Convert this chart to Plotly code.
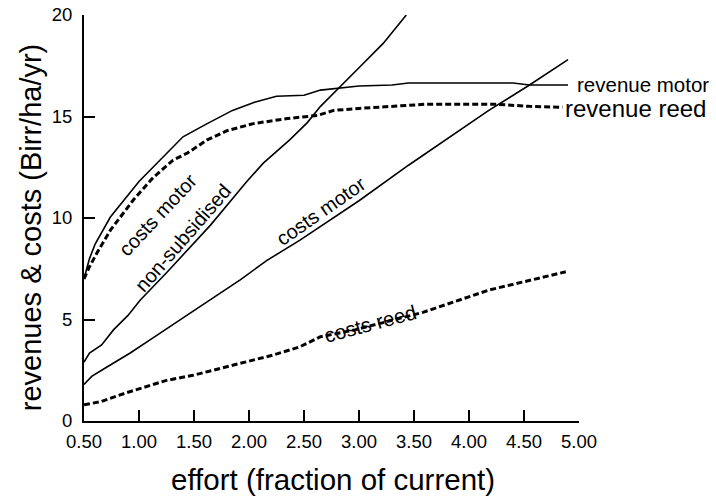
import plotly.graph_objects as go

# effort (fraction of current) vs revenues & costs (Birr/ha/yr)
rev_motor_x = [0.5, 0.55, 0.6, 0.74, 1.0, 1.2, 1.4, 1.62, 1.85, 2.05, 2.25, 2.5, 2.65, 3.0, 3.3, 3.45, 4.4, 4.55, 4.9]
rev_motor_y = [7.0, 8.0, 8.7, 10.05, 11.8, 12.9, 14.0, 14.65, 15.3, 15.7, 16.0, 16.05, 16.3, 16.5, 16.55, 16.65, 16.65, 16.55, 16.55]

rev_reed_x = [0.5, 0.55, 0.62, 0.74, 0.95, 1.13, 1.31, 1.44, 1.62, 1.8, 2.04, 2.35, 2.62, 2.77, 3.0, 3.3, 3.6, 4.25, 4.55, 4.85]
rev_reed_y = [7.0, 7.6, 8.3, 9.4, 10.9, 12.0, 12.85, 13.2, 13.85, 14.3, 14.65, 14.9, 15.05, 15.3, 15.4, 15.5, 15.6, 15.6, 15.5, 15.45]

cost_nonsub_x = [0.5, 0.55, 0.66, 0.77, 0.9, 1.01, 1.25, 1.44, 1.65, 1.98, 2.13, 2.37, 2.53, 2.65, 2.8, 3.0, 3.22, 3.43]
cost_nonsub_y = [2.9, 3.35, 3.75, 4.5, 5.2, 5.95, 7.3, 8.4, 9.65, 11.8, 12.7, 13.85, 14.7, 15.5, 16.3, 17.4, 18.6, 20.0]

cost_motor_x = [0.5, 0.57, 0.69, 0.81, 0.92, 1.1, 1.4, 1.67, 1.92, 2.16, 2.46, 3.0, 3.45, 3.88, 4.18, 4.55, 4.9]
cost_motor_y = [1.8, 2.2, 2.6, 3.0, 3.35, 4.0, 5.1, 6.05, 6.95, 7.9, 8.9, 10.85, 12.6, 14.2, 15.3, 16.55, 17.8]

cost_reed_x = [0.5, 0.65, 0.89, 1.25, 1.49, 1.74, 1.98, 2.22, 2.46, 2.65, 2.97, 3.58, 4.18, 4.88]
cost_reed_y = [0.8, 0.95, 1.4, 2.0, 2.25, 2.6, 2.9, 3.25, 3.65, 4.15, 4.5, 5.35, 6.45, 7.35]

x_ticks = [0.5, 1.0, 1.5, 2.0, 2.5, 3.0, 3.5, 4.0, 4.5, 5.0]
y_ticks = [0, 5, 10, 15, 20]

FONT = "Liberation Sans, Arial, sans-serif"
solid = dict(color="black", width=1.6)
dashed = dict(color="black", width=3, dash="6px,3px")

fig = go.Figure()
fig.add_trace(go.Scatter(x=rev_motor_x, y=rev_motor_y, mode="lines", line=solid, name="revenue motor"))
fig.add_trace(go.Scatter(x=rev_reed_x, y=rev_reed_y, mode="lines", line=dashed, name="revenue reed"))
fig.add_trace(go.Scatter(x=cost_nonsub_x, y=cost_nonsub_y, mode="lines", line=solid, name="costs motor non-subsidised"))
fig.add_trace(go.Scatter(x=cost_motor_x, y=cost_motor_y, mode="lines", line=solid, name="costs motor"))
fig.add_trace(go.Scatter(x=cost_reed_x, y=cost_reed_y, mode="lines", line=dashed, name="costs reed"))

# labels written along the curves
labels = [
    dict(text="revenue motor", x=4.96, y=16.6, xanchor="left", textangle=0, size=20.5),
    dict(text="revenue reed", x=4.85, y=15.4, xanchor="left", textangle=0, size=24),
    dict(text="costs motor", x=1.17, y=10.15, xanchor="center", textangle=-47, size=20),
    dict(text="non-subsidised", x=1.40, y=9.0, xanchor="center", textangle=-49, size=20),
    dict(text="costs motor", x=2.655, y=10.35, xanchor="center", textangle=-35, size=20),
    dict(text="costs reed", x=3.1, y=4.8, xanchor="center", textangle=-15, size=20.5),
]
for lb in labels:
    fig.add_annotation(x=lb["x"], y=lb["y"], text=lb["text"], showarrow=False,
                       xanchor=lb["xanchor"], yanchor="middle", textangle=lb["textangle"],
                       font=dict(family=FONT, size=lb["size"], color="black"))

# axis titles placed in paper coordinates
fig.add_annotation(x=0.503, y=-0.145, xref="paper", yref="paper", text="effort (fraction of current)",
                   showarrow=False, xanchor="center", yanchor="middle",
                   font=dict(family=FONT, size=29.5, color="black"))
fig.add_annotation(x=-0.107, y=0.475, xref="paper", yref="paper", text="revenues & costs (Birr/ha/yr)",
                   showarrow=False, xanchor="center", yanchor="middle", textangle=-90,
                   font=dict(family=FONT, size=29, color="black"))

axis_style = dict(showline=True, linecolor="black", linewidth=2, ticks="inside", ticklen=11,
                  tickwidth=2, tickcolor="black", showgrid=False, zeroline=False, automargin=False,
                  tickfont=dict(family=FONT, size=18.5, color="black"))

fig.update_xaxes(range=[0.5, 5.0], tickvals=x_ticks, tickformat=".2f", ticklabelstandoff=3, **axis_style)
fig.update_yaxes(range=[0, 20], tickvals=y_ticks, ticklabelstandoff=6, **axis_style)

fig.update_layout(width=716, height=497, showlegend=False,
                  margin=dict(l=84, r=137, t=15, b=76),
                  plot_bgcolor="white", paper_bgcolor="white",
                  font=dict(family=FONT, color="black"))

# drop the page's default body margin so the figure fills the window exactly
fig.write_html("out.html", config={"displayModeBar": False},
               post_script="document.body.style.margin='0px';")
